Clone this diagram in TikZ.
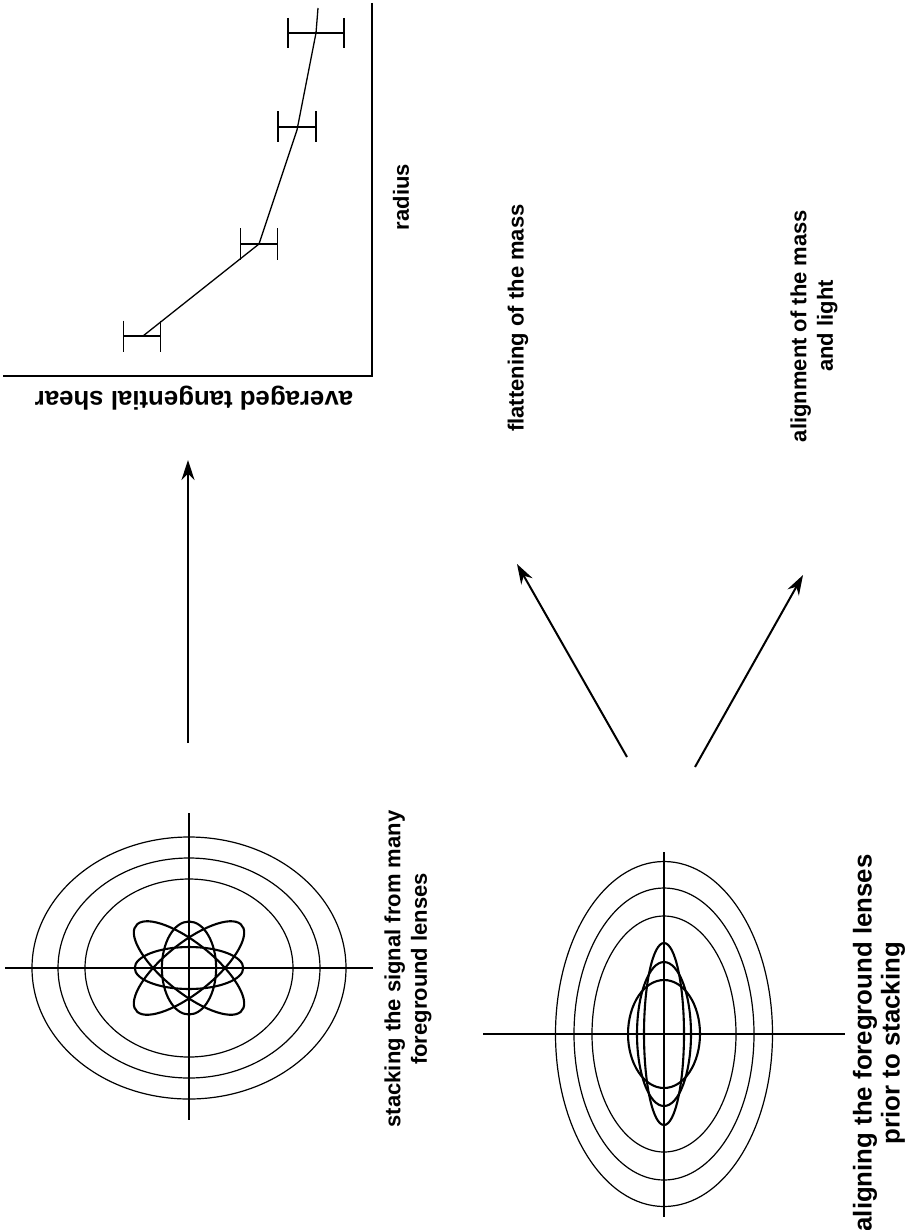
\documentclass[tikz,border=0pt]{standalone}
\usepackage{fontspec}
\setmainfont{Liberation Sans}
\usepackage{tikz}
\usetikzlibrary{arrows.meta}

\begin{document}
\begin{tikzpicture}[x=0.5pt, y=-0.5pt,
    axis/.style={line width=0.9pt},
    ring/.style={line width=0.6pt},
    lens/.style={line width=1.05pt},
    bar/.style={line width=0.65pt},
    lbl/.style={font=\fontsize{11}{13.2}\selectfont\bfseries, align=center,
                inner sep=0pt},
    big/.style={lbl, font=\fontsize{12.9}{14}\selectfont\bfseries},
    flow/.style={-{Stealth[length=10pt, width=6.5pt]}, line width=1pt}]
  \useasboundingbox (0,0) rectangle (917,1230);

  % shear profile
  \coordinate (corner) at (372,376);
  \draw[axis] (372,3) -- (corner) -- (3,376);
  \node[lbl, rotate=90] (radius) at (401,197) {radius};
  \node[big, rotate=180] (shear) at (194,398) {averaged tangential shear};
  \draw[bar] (143,336) -- (259,244) -- (297,130) -- (316,33) -- (318,8);
  \foreach \x/\y/\w/\h in {142/336/18.5/15.5, 259/244/18.5/15.5,
                           297/127/19/15.5, 316/33/28/15}
    \draw[bar] (\x-\w,\y-\h) -- (\x-\w,\y+\h)
               (\x-\w,\y) -- (\x+\w,\y)
               (\x+\w,\y-\h) -- (\x+\w,\y+\h);

  % stacking
  \coordinate (stack) at (189,968);
  \draw[axis] (5,968) -- (373,968) (189,813) -- (189,1120);
  \foreach \rx/\ry in {157/131, 131/110, 104/89}
    \draw[ring] (stack) ellipse [x radius=\rx, y radius=\ry];
  \begin{scope}[shift={(stack)}, xscale=1.18]
    \draw[lens] (0,0) ellipse [x radius=46, y radius=21];
    \draw[lens] (0,0) ellipse [x radius=23, y radius=46.5];
    \draw[lens, rotate=45] (0,0) ellipse [x radius=62, y radius=23];
    \draw[lens, rotate=-45] (0,0) ellipse [x radius=62, y radius=23];
  \end{scope}
  \node[lbl, rotate=90] (stacktxt) at (408,969)
    {stacking the signal from many\\foreground lenses};

  % aligning
  \coordinate (align) at (664,1034);
  \draw[axis] (483,1034) -- (845,1034) (664,852) -- (664,1217);
  \foreach \rx/\ry in {108.5/172.5, 90/146, 72/118}
    \draw[ring] (align) ellipse [x radius=\rx, y radius=\ry];
  \foreach \rx/\ry in {36/54, 27/72, 20/91}
    \draw[lens] (align) ellipse [x radius=\rx, y radius=\ry];
  \node[big, rotate=90] (aligntxt) at (879,1043)
    {aligning the foreground lenses\\prior to stacking};

  % arrows
  \coordinate (s1) at (188,743);
  \coordinate (t1) at (188,460);
  \coordinate (s2) at (627,757);
  \coordinate (t2) at (517,564);
  \coordinate (s3) at (695,767);
  \coordinate (t3) at (803,575);
  \draw[flow] (s1) -- (t1);
  \draw[flow] (s2) -- (t2);
  \draw[flow] (s3) -- (t3);
  \node[lbl, rotate=90] (flat) at (518,318) {flattening of the mass};
  \node[lbl, rotate=90] (massl) at (814,326) {alignment of the mass\\and light};
\end{tikzpicture}
\end{document}
